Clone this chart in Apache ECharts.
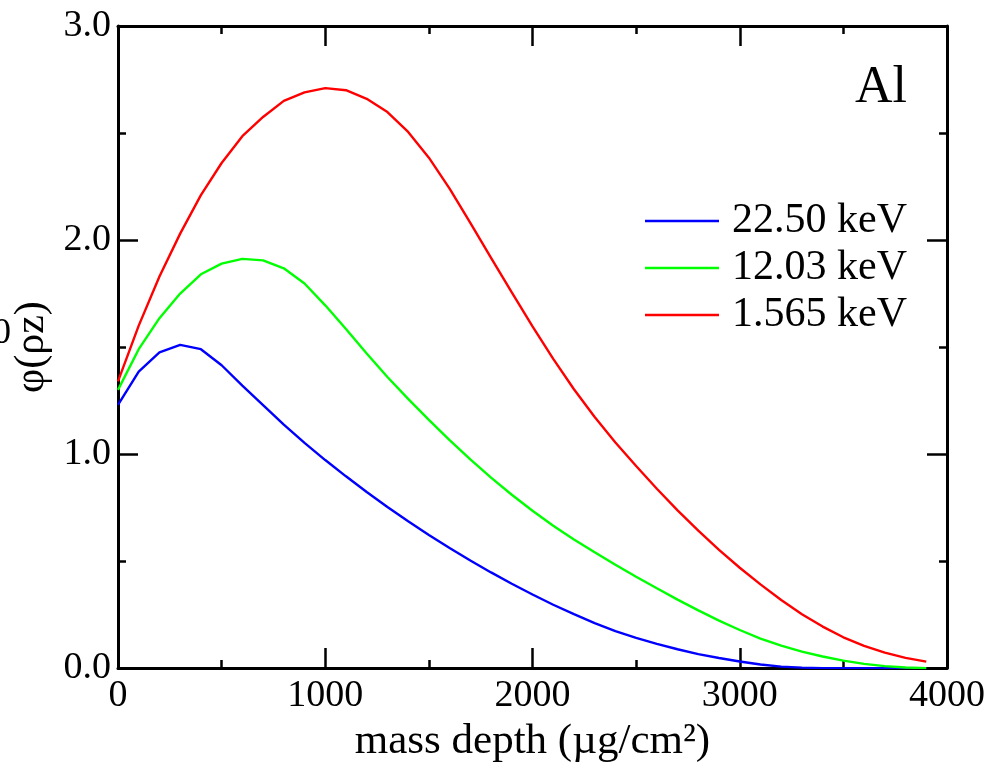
<!DOCTYPE html>
<html>
<head>
<meta charset="utf-8">
<script src="https://cdn.jsdelivr.net/npm/echarts@6/dist/echarts.min.js"></script>
<style>
  html, body { margin: 0; padding: 0; background: #fff; }
  #chart { width: 1003px; height: 768px; }
</style>
</head>
<body>
<div id="chart"></div>
<script>
// mass depth (ug/cm2)
let depth = [0, 100, 200, 300, 400, 500, 600, 700, 800, 900,
  1000, 1100, 1200, 1300, 1400, 1500, 1600, 1700, 1800, 1900,
  2000, 2100, 2200, 2300, 2400, 2500, 2600, 2700, 2800, 2900,
  3000, 3100, 3200, 3300, 3400, 3500, 3600, 3700, 3800, 3900];

// phi(rho z) curves
let phi2250 = [1.23, 1.385, 1.475, 1.51, 1.49, 1.415, 1.32, 1.229, 1.138, 1.052,
  0.972, 0.896, 0.823, 0.753, 0.686, 0.622, 0.561, 0.503, 0.447, 0.394,
  0.344, 0.296, 0.252, 0.21, 0.173, 0.141, 0.113, 0.088, 0.065, 0.047,
  0.031, 0.017, 0.007, 0.002, 0, 0, 0, 0, 0, 0];

let phi1203 = [1.30, 1.49, 1.635, 1.75, 1.84, 1.89, 1.912, 1.905, 1.868, 1.797,
  1.695, 1.584, 1.47, 1.36, 1.258, 1.16, 1.065, 0.975, 0.89, 0.81,
  0.735, 0.665, 0.601, 0.541, 0.483, 0.427, 0.373, 0.32, 0.27, 0.222,
  0.178, 0.138, 0.105, 0.077, 0.054, 0.035, 0.02, 0.009, 0.003, 0];

let phi1565 = [1.34, 1.60, 1.83, 2.03, 2.21, 2.36, 2.485, 2.575, 2.65, 2.69,
  2.71, 2.70, 2.66, 2.598, 2.505, 2.385, 2.24, 2.08, 1.917, 1.755,
  1.597, 1.445, 1.303, 1.173, 1.054, 0.944, 0.838, 0.737, 0.642, 0.552,
  0.469, 0.391, 0.318, 0.252, 0.194, 0.144, 0.104, 0.072, 0.048, 0.03];

let seriesNames = ['22.50 keV', '12.03 keV', '1.565 keV'];
let seriesColors = ['#0000ff', '#00ff00', '#ff0000'];
let seriesValues = [phi2250, phi1203, phi1565];

let fontName = 'Liberation Serif';

var chartDom = document.getElementById('chart');
var chart = echarts.init(chartDom);

function pairs(ys) {
  return depth.map(function (d, i) { return [d, ys[i]]; });
}

var tickStyle = { color: '#000', width: 2.5 };

function frameAxis(pos, min, max, interval, showLabel, fmt) {
  return {
    type: 'value',
    position: pos,
    min: min,
    max: max,
    interval: interval,
    splitLine: { show: false },
    axisLine: { show: true, onZero: false, lineStyle: { color: '#000', width: 3 } },
    axisTick: { show: true, inside: true, length: 20, lineStyle: tickStyle },
    minorTick: { show: true, splitNumber: 2, length: 8, lineStyle: tickStyle },
    axisLabel: {
      show: showLabel,
      color: '#000',
      fontFamily: fontName,
      fontSize: 38,
      margin: pos === 'bottom' ? 9 : 7,
      formatter: fmt
    }
  };
}

var xBottom = frameAxis('bottom', 0, 4000, 1000, true, function (v) { return String(v); });
xBottom.name = 'mass depth (\u00b5g/cm\u00b2)';
xBottom.nameLocation = 'middle';
xBottom.nameGap = 38;
xBottom.nameTextStyle = { color: '#000', fontFamily: fontName, fontSize: 43 };

var yLeft = frameAxis('left', 0, 3, 1, true, function (v) { return v.toFixed(1); });
yLeft.name = '\u03c6(\u03c1z)';
yLeft.nameLocation = 'middle';
yLeft.nameGap = 63;
yLeft.nameTextStyle = { color: '#000', fontFamily: fontName, fontSize: 42 };

option = {
  animation: false,
  backgroundColor: '#fff',
  grid: { left: 118, right: 56, top: 26, bottom: 81 },
  xAxis: [xBottom, frameAxis('top', 0, 4000, 1000, false)],
  yAxis: [yLeft, frameAxis('right', 0, 3, 1, false)],
  legend: {
    orient: 'vertical',
    left: 645,
    top: 200,
    padding: 0,
    itemGap: 5,
    itemWidth: 74,
    itemHeight: 2.4,
    icon: 'rect',
    selectedMode: false,
    data: seriesNames,
    textStyle: {
      color: '#000',
      fontFamily: fontName,
      fontSize: 42,
      padding: [0, 0, 0, 8]
    }
  },
  graphic: [
    {
      type: 'text',
      left: 855,
      top: 62,
      style: { text: 'Al', fill: '#000', font: '52px "Liberation Serif"' }
    },
    {
      type: 'text',
      left: -7,
      top: 316,
      style: { text: '0', fill: '#000', font: '36px "Liberation Serif"' }
    }
  ],
  series: seriesNames.map(function (name, i) {
    return {
      name: name,
      type: 'line',
      symbol: 'none',
      data: pairs(seriesValues[i]),
      lineStyle: { color: seriesColors[i], width: 2.4 },
      itemStyle: { color: seriesColors[i] },
      z: 3 + i
    };
  })
};

chart.setOption(option);
</script>
</body>
</html>
